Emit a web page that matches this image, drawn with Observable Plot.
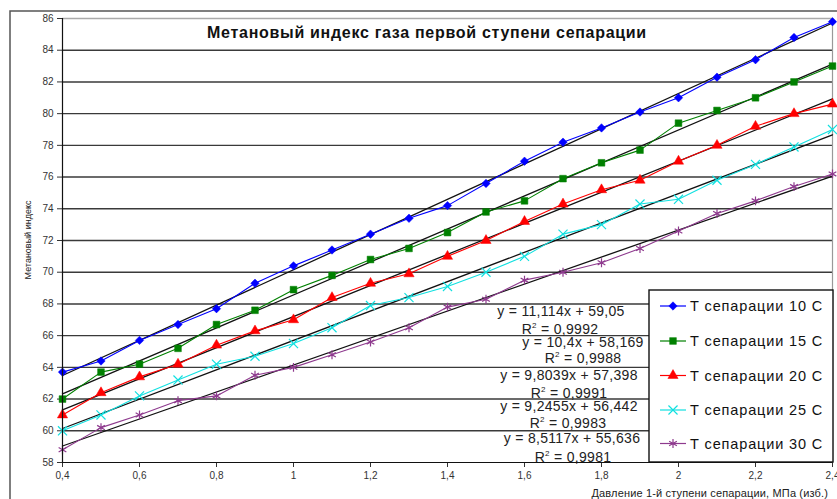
<!DOCTYPE html>
<html><head><meta charset="utf-8">
<script src="https://cdn.jsdelivr.net/npm/d3@7"></script>
<script src="https://cdn.jsdelivr.net/npm/@observablehq/plot@0.6"></script>
<style>body{margin:0;background:#fff} svg{display:block}</style>
</head><body><div id="chart"></div>
<script>
// ---- data ----
const pressure = [0.4,0.5,0.6,0.7,0.8,0.9,1.0,1.1,1.2,1.3,1.4,1.5,1.6,1.7,1.8,1.9,2.0,2.1,2.2,2.3,2.4];
const t10 = [63.7,64.4,65.7,66.7,67.7,69.3,70.4,71.4,72.4,73.4,74.2,75.6,77.0,78.2,79.1,80.1,81.0,82.3,83.4,84.8,85.8];
const t15 = [62.0,63.7,64.2,65.2,66.7,67.6,68.9,69.8,70.8,71.5,72.5,73.8,74.5,75.9,76.9,77.7,79.4,80.2,81.0,82.0,83.0];
const t20 = [61.0,62.4,63.4,64.2,65.4,66.3,67.0,68.4,69.3,69.9,71.0,72.0,73.2,74.3,75.2,75.8,77.0,78.0,79.2,80.0,80.6];
const t25 = [60.0,61.0,62.2,63.2,64.2,64.7,65.5,66.5,67.9,68.4,69.1,70.0,71.0,72.4,73.0,74.3,74.6,75.8,76.8,77.9,79.0];
const t30 = [58.8,60.2,61.0,61.9,62.2,63.5,64.0,64.8,65.6,66.5,67.8,68.3,69.5,70.0,70.6,71.5,72.6,73.7,74.5,75.4,76.2];
const seriesNames = ["Т сепарации 10 С","Т сепарации 15 С","Т сепарации 20 С","Т сепарации 25 С","Т сепарации 30 С"];
const seriesColors = ["#0000ff","#008000","#ff0000","#11e0e0","#8e3a8e"];
const seriesSymbols = ["diamond2","square","triangle","times","asterisk"];
const filledSeries = [true,true,true,false,false];
const slopes = ["11,114","10,4","9,8039","9,2455","8,5117"];
const intercepts = ["59,05","58,169","57,398","56,442","55,636"];
const rSquared = ["0,9992","0,9988","0,9991","0,9983","0,9981"];
const xTicks = [0.4,0.6,0.8,1.0,1.2,1.4,1.6,1.8,2.0,2.2,2.4];
const yTicks = [58,60,62,64,66,68,70,72,74,76,78,80,82,84,86];
const titleText = "Метановый индекс газа первой ступени сепарации";
const xLabelText = "Давление 1-й ступени сепарации, МПа (изб.)";
const yLabelText = "Метановый индекс";

// ---- layout (pixels, not data) ----
const eqLayout = [[561,316,560,334],[583,347,583,363],[569,380,569,398],[569,411,568,428],[572,443,573,462]];
const legendBox = {x:649, y:290, w:184, h:172};
const legendRows = [306,341,375.5,410,443.5];

const values = [t10,t15,t20,t25,t30];
const data = values.flatMap((vals,i)=>vals.map((v,j)=>({x: pressure[j], y: v, s: seriesNames[i]})));
const filledNames = seriesNames.filter((d,i)=>filledSeries[i]);
const fmt = d => String(d).replace(".", ",");

const plot = Plot.plot({
  width: 837, height: 499,
  marginLeft: 62, marginRight: 5, marginTop: 18, marginBottom: 37,
  style: {fontFamily: "'Liberation Sans', Arial, sans-serif", fontSize: "10px", color: "#333", background: "transparent"},
  x: {domain: [0.4,2.4], ticks: xTicks, tickFormat: fmt, tickSize: 5, tickPadding: 4, label: null},
  y: {domain: [58,86], ticks: yTicks, tickSize: 5, tickPadding: 4, label: null},
  color: {domain: seriesNames, range: seriesColors},
  symbol: {domain: seriesNames, range: seriesSymbols},
  marks: [
    Plot.ruleY(yTicks.filter(d => d > 58 && d < 86), {stroke: "#3a3a3a", strokeWidth: 1.4}),
    Plot.ruleY([86], {stroke: "#aaa", strokeWidth: 1.4}),
    Plot.ruleX([2.4], {stroke: "#999", strokeWidth: 1.2}),
    Plot.linearRegressionY(data, {x: "x", y: "y", z: "s", stroke: "#111", strokeWidth: 1.3, ci: 0}),
    Plot.line(data, {x: "x", y: "y", z: "s", stroke: "s", strokeWidth: 1.1}),
    Plot.dot(data.filter(d => filledNames.includes(d.s)), {x: "x", y: "y", symbol: "s", fill: "s", stroke: "s", r: 3.8, strokeWidth: 0.5}),
    Plot.dot(data.filter(d => !filledNames.includes(d.s)), {x: "x", y: "y", symbol: "s", stroke: "s", fill: "none", r: 4.2, strokeWidth: 1.2}),
    Plot.ruleX([0.4], {stroke: "#111", strokeWidth: 1.2}),
    Plot.ruleY([58], {stroke: "#111", strokeWidth: 1.2})
  ]
});
document.getElementById("chart").appendChild(plot);

const svg = d3.select(plot);
// outer frame
svg.insert("rect", ":first-child").attr("x", 10).attr("y", 11).attr("width", 900).attr("height", 600)
  .attr("fill", "none").attr("stroke", "#555").attr("stroke-width", 1.5);
// title
svg.append("text").attr("x", 427).attr("y", 38).attr("text-anchor", "middle")
  .style("font-size", "16px").style("font-weight", "bold").style("letter-spacing", "0.7px")
  .attr("fill", "#111").text(titleText);
// axis labels
svg.append("text").attr("transform", "translate(31,240) rotate(-90)").attr("text-anchor", "middle")
  .style("font-size", "9px").attr("fill", "#222").text(yLabelText);
svg.append("text").attr("x", 828).attr("y", 497).attr("text-anchor", "end")
  .style("font-size", "11px").style("letter-spacing", "0.15px").attr("fill", "#222").text(xLabelText);
// equations
eqLayout.forEach((p, i) => {
  svg.append("text").attr("x", p[0]).attr("y", p[1]).attr("text-anchor", "middle")
    .style("font-size", "14px").style("letter-spacing", "0.3px").attr("fill", "#222")
    .text(`y = ${slopes[i]}x + ${intercepts[i]}`);
  const t = svg.append("text").attr("x", p[2]).attr("y", p[3]).attr("text-anchor", "middle")
    .style("font-size", "14px").style("letter-spacing", "0.3px").attr("fill", "#222");
  t.append("tspan").text("R");
  t.append("tspan").attr("dy", -6).style("font-size", "8px").text("2");
  t.append("tspan").attr("dy", 6).text(` = ${rSquared[i]}`);
});
// legend
const lg = svg.append("g");
lg.append("rect").attr("x", legendBox.x).attr("y", legendBox.y).attr("width", legendBox.w).attr("height", legendBox.h)
  .attr("fill", "#fff").attr("stroke", "#111").attr("stroke-width", 1.4);
const symMap = {diamond2: d3.symbolDiamond2, square: d3.symbolSquare, triangle: d3.symbolTriangle, times: d3.symbolTimes, asterisk: d3.symbolAsterisk};
seriesNames.forEach((name, i) => {
  const y = legendRows[i];
  lg.append("line").attr("x1", 660).attr("x2", 686).attr("y1", y).attr("y2", y)
    .attr("stroke", seriesColors[i]).attr("stroke-width", 1.2);
  const r = filledSeries[i] ? 3.8 : 4.2;
  lg.append("path").attr("transform", `translate(673,${y})`)
    .attr("d", d3.symbol(symMap[seriesSymbols[i]], Math.PI * r * r)())
    .attr("fill", filledSeries[i] ? seriesColors[i] : "none")
    .attr("stroke", seriesColors[i]).attr("stroke-width", filledSeries[i] ? 0.5 : 1.2);
  lg.append("text").attr("x", 690).attr("y", y + 5).attr("text-anchor", "start")
    .style("font-size", "14.5px").style("letter-spacing", "0.85px").attr("fill", "#111").text(name);
});
</script>
</body></html>
